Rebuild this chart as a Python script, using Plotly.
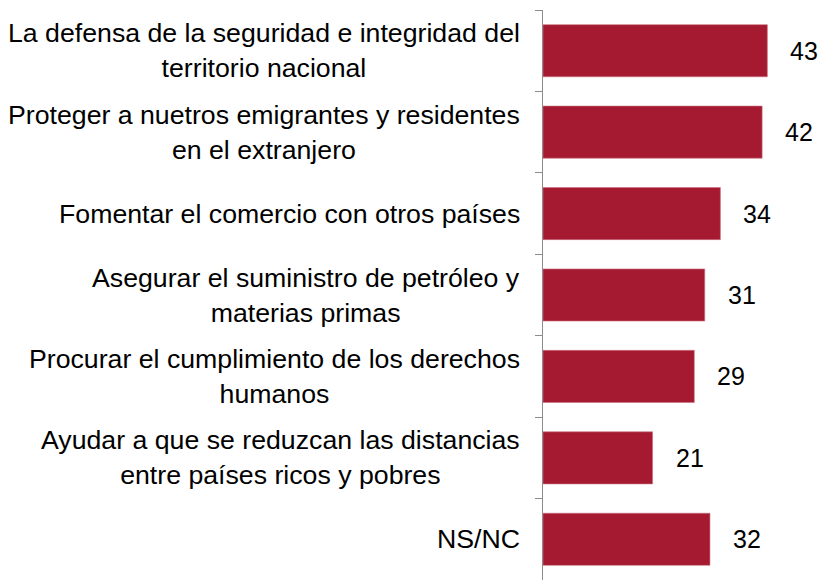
import plotly.graph_objects as go

# Prioridades de política exterior (%)
categorias = [
    "La defensa de la seguridad e integridad del<br>territorio nacional",
    "Proteger a nuetros emigrantes y residentes<br>en el extranjero",
    "Fomentar el comercio con otros países",
    "Asegurar el suministro de petróleo y<br>materias primas",
    "Procurar el cumplimiento de los derechos<br>humanos",
    "Ayudar a que se reduzcan las distancias<br>entre países ricos y pobres",
    "NS/NC",
]
valores = [43, 42, 34, 31, 29, 21, 32]

BAR_COLOR = "#A51A30"
FONT = "Liberation Sans, Arial, sans-serif"

fig = go.Figure(go.Bar(
    x=valores,
    y=categorias,
    orientation="h",
    marker=dict(color=BAR_COLOR, line=dict(color="#c9707e", width=0.6)),
    width=0.64,
    hoverinfo="x+y",
))

# category labels, centred lines like the original
for cat in categorias:
    fig.add_annotation(
        x=0, y=cat, xref="x", yref="y",
        text=cat, showarrow=False,
        xanchor="right", yanchor="middle", align="center",
        xshift=-21,
        font=dict(family=FONT, size=26.7, color="#000000"),
    )

# value labels
for cat, v in zip(categorias, valores):
    fig.add_annotation(
        x=v, y=cat, xref="x", yref="y",
        text=str(v), showarrow=False,
        xanchor="left", yanchor="middle",
        xshift=21,
        font=dict(family=FONT, size=25, color="#000000"),
    )

fig.update_layout(
    width=819, height=580,
    margin=dict(l=543, r=0, t=10, b=0),
    paper_bgcolor="white", plot_bgcolor="white",
    showlegend=False,
    xaxis=dict(range=[0, 52.9], visible=False, fixedrange=True),
    yaxis=dict(
        autorange="reversed",
        showticklabels=False,
        showline=True, linecolor="#8c8c8c", linewidth=1.3,
        ticks="outside", tickson="boundaries", ticklen=7,
        tickcolor="#8c8c8c", tickwidth=1.3,
        showgrid=False, zeroline=False,
    ),
)

# drop the default body margin so the figure fills the window exactly
fig.write_html(
    "out.html",
    config={"displayModeBar": False},
    post_script="document.body.style.margin = '0';",
)
